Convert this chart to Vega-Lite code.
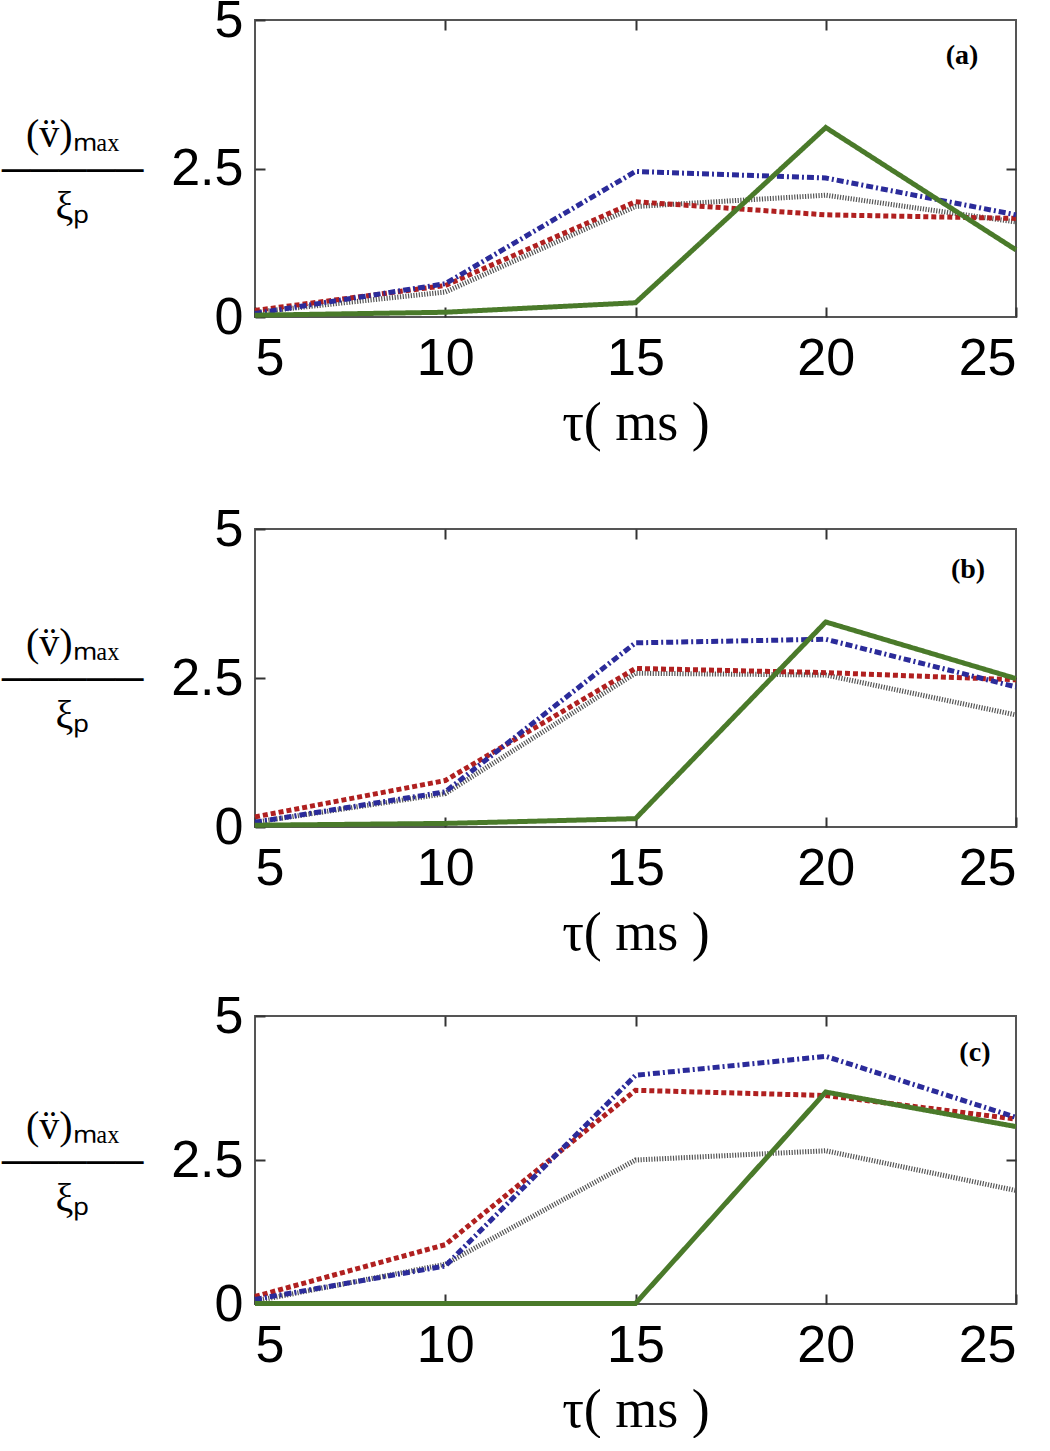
{
  "$schema": "https://vega.github.io/schema/vega-lite/v6.json",
  "background": "white",
  "padding": {"left": 0, "top": -7, "right": 0, "bottom": 0},
  "datasets": {
    "curves": [
      {"panel": "a", "series": "dotted", "tau": 5, "v": 0.08},
      {"panel": "a", "series": "dotted", "tau": 10, "v": 0.42},
      {"panel": "a", "series": "dotted", "tau": 15, "v": 1.86},
      {"panel": "a", "series": "dotted", "tau": 20, "v": 2.05},
      {"panel": "a", "series": "dotted", "tau": 25, "v": 1.6},
      {"panel": "a", "series": "dashed", "tau": 5, "v": 0.11},
      {"panel": "a", "series": "dashed", "tau": 10, "v": 0.53},
      {"panel": "a", "series": "dashed", "tau": 15, "v": 1.94},
      {"panel": "a", "series": "dashed", "tau": 20, "v": 1.72},
      {"panel": "a", "series": "dashed", "tau": 25, "v": 1.66},
      {"panel": "a", "series": "dashdot", "tau": 5, "v": 0.06},
      {"panel": "a", "series": "dashdot", "tau": 10, "v": 0.56},
      {"panel": "a", "series": "dashdot", "tau": 15, "v": 2.45},
      {"panel": "a", "series": "dashdot", "tau": 20, "v": 2.34},
      {"panel": "a", "series": "dashdot", "tau": 25, "v": 1.72},
      {"panel": "a", "series": "solid", "tau": 5, "v": 0.03},
      {"panel": "a", "series": "solid", "tau": 10, "v": 0.08},
      {"panel": "a", "series": "solid", "tau": 15, "v": 0.24},
      {"panel": "a", "series": "solid", "tau": 20, "v": 3.19},
      {"panel": "a", "series": "solid", "tau": 25, "v": 1.13},
      {"panel": "b", "series": "dotted", "tau": 5, "v": 0.08},
      {"panel": "b", "series": "dotted", "tau": 10, "v": 0.56},
      {"panel": "b", "series": "dotted", "tau": 15, "v": 2.58},
      {"panel": "b", "series": "dotted", "tau": 20, "v": 2.55},
      {"panel": "b", "series": "dotted", "tau": 25, "v": 1.88},
      {"panel": "b", "series": "dashed", "tau": 5, "v": 0.17},
      {"panel": "b", "series": "dashed", "tau": 10, "v": 0.78},
      {"panel": "b", "series": "dashed", "tau": 15, "v": 2.66},
      {"panel": "b", "series": "dashed", "tau": 20, "v": 2.59},
      {"panel": "b", "series": "dashed", "tau": 25, "v": 2.47},
      {"panel": "b", "series": "dashdot", "tau": 5, "v": 0.08},
      {"panel": "b", "series": "dashdot", "tau": 10, "v": 0.59},
      {"panel": "b", "series": "dashdot", "tau": 15, "v": 3.09},
      {"panel": "b", "series": "dashdot", "tau": 20, "v": 3.15},
      {"panel": "b", "series": "dashdot", "tau": 25, "v": 2.35},
      {"panel": "b", "series": "solid", "tau": 5, "v": 0.03},
      {"panel": "b", "series": "solid", "tau": 10, "v": 0.06},
      {"panel": "b", "series": "solid", "tau": 15, "v": 0.14},
      {"panel": "b", "series": "solid", "tau": 20, "v": 3.44},
      {"panel": "b", "series": "solid", "tau": 25, "v": 2.49},
      {"panel": "c", "series": "dotted", "tau": 5, "v": 0.05},
      {"panel": "c", "series": "dotted", "tau": 10, "v": 0.69},
      {"panel": "c", "series": "dotted", "tau": 15, "v": 2.5},
      {"panel": "c", "series": "dotted", "tau": 20, "v": 2.66},
      {"panel": "c", "series": "dotted", "tau": 25, "v": 1.97},
      {"panel": "c", "series": "dashed", "tau": 5, "v": 0.13},
      {"panel": "c", "series": "dashed", "tau": 10, "v": 1.03},
      {"panel": "c", "series": "dashed", "tau": 15, "v": 3.71},
      {"panel": "c", "series": "dashed", "tau": 20, "v": 3.62},
      {"panel": "c", "series": "dashed", "tau": 25, "v": 3.21},
      {"panel": "c", "series": "dashdot", "tau": 5, "v": 0.08},
      {"panel": "c", "series": "dashdot", "tau": 10, "v": 0.66},
      {"panel": "c", "series": "dashdot", "tau": 15, "v": 3.97},
      {"panel": "c", "series": "dashdot", "tau": 20, "v": 4.3},
      {"panel": "c", "series": "dashdot", "tau": 25, "v": 3.24},
      {"panel": "c", "series": "solid", "tau": 5, "v": 0.01},
      {"panel": "c", "series": "solid", "tau": 10, "v": 0.01},
      {"panel": "c", "series": "solid", "tau": 15, "v": 0.01},
      {"panel": "c", "series": "solid", "tau": 20, "v": 3.68},
      {"panel": "c", "series": "solid", "tau": 25, "v": 3.08}
    ],
    "labels": [
      {"panel": "a", "tau": 23.58, "v": 4.39, "text": "(a)"},
      {"panel": "b", "tau": 23.74, "v": 4.31, "text": "(b)"},
      {"panel": "c", "tau": 23.92, "v": 4.36, "text": "(c)"}
    ]
  },
  "config": {
    "view": {"stroke": "#555555", "strokeWidth": 2},
    "axis": {
      "grid": false,
      "domain": false,
      "labelFont": "Liberation Sans",
      "labelFontSize": 52,
      "labelColor": "black",
      "tickColor": "#333333",
      "tickWidth": 2,
      "tickSize": -10,
      "titleFont": "Liberation Serif",
      "titleFontWeight": "normal",
      "titleColor": "black"
    }
  },
  "spacing": 28,
  "vconcat": [
    {
      "width": 761,
      "height": 297,
      "layer": [
        {
          "data": {"name": "curves"},
          "transform": [{"filter": "datum.panel === 'a'"}],
          "mark": {"type": "line", "strokeWidth": 5, "strokeCap": "butt"},
          "encoding": {
            "x": {"field": "tau", "type": "quantitative", "scale": {"domain": [5, 25], "nice": false, "zero": false, "padding": 0},
              "axis": {"values": [5, 10, 15, 20, 25], "labelPadding": 26, "title": "τ( ms )", "titleFontSize": 54, "titlePadding": 12}},
            "y": {"field": "v", "type": "quantitative", "scale": {"domain": [0, 5], "nice": false, "padding": 0},
              "axis": {"values": [0, 2.5, 5], "format": ".1~f", "labelPadding": 22, "title": ["(v̈)ₘₐₓ", "─────", "ξₚ"], "titleAngle": 0, "titleFontSize": 40, "titleLineHeight": 36, "titleAlign": "center", "titleBaseline": "middle", "titleX": -183, "titleY": 114}},
            "color": {"field": "series", "type": "nominal", "legend": null,
              "scale": {"domain": ["dashdot", "dashed", "dotted", "solid"], "range": ["#2b2b9a", "#b02020", "#555555", "#4a7a2a"]}},
            "strokeDash": {"field": "series", "type": "nominal", "legend": null,
              "scale": {"domain": ["dashdot", "dashed", "dotted", "solid"], "range": [[7, 3, 2, 3], [5, 3], [1.2, 1.5], [1, 0]]}}
          }
        },
        {
          "data": {"name": "labels"},
          "transform": [{"filter": "datum.panel === 'a'"}],
          "mark": {"type": "text", "font": "Liberation Serif", "fontSize": 28, "fontWeight": "bold", "color": "black"},
          "encoding": {
            "x": {"field": "tau", "type": "quantitative", "scale": {"domain": [5, 25], "nice": false, "zero": false, "padding": 0}, "axis": {"orient": "top", "values": [10, 15, 20], "labels": false, "title": null}},
            "y": {"field": "v", "type": "quantitative", "scale": {"domain": [0, 5], "nice": false, "padding": 0}, "axis": {"orient": "right", "values": [2.5], "labels": false, "title": null}},
            "text": {"field": "text"}
          }
        }
      ],
      "resolve": {"axis": {"x": "independent", "y": "independent"}}
    },
    {
      "width": 761,
      "height": 298,
      "title": {"text": " ", "fontSize": 4, "offset": 19, "frame": "bounds"},
      "layer": [
        {
          "data": {"name": "curves"},
          "transform": [{"filter": "datum.panel === 'b'"}],
          "mark": {"type": "line", "strokeWidth": 5, "strokeCap": "butt"},
          "encoding": {
            "x": {"field": "tau", "type": "quantitative", "scale": {"domain": [5, 25], "nice": false, "zero": false, "padding": 0},
              "axis": {"values": [5, 10, 15, 20, 25], "labelPadding": 26, "title": "τ( ms )", "titleFontSize": 54, "titlePadding": 12}},
            "y": {"field": "v", "type": "quantitative", "scale": {"domain": [0, 5], "nice": false, "padding": 0},
              "axis": {"values": [0, 2.5, 5], "format": ".1~f", "labelPadding": 22, "title": ["(v̈)ₘₐₓ", "─────", "ξₚ"], "titleAngle": 0, "titleFontSize": 40, "titleLineHeight": 36, "titleAlign": "center", "titleBaseline": "middle", "titleX": -183, "titleY": 114}},
            "color": {"field": "series", "type": "nominal", "legend": null,
              "scale": {"domain": ["dashdot", "dashed", "dotted", "solid"], "range": ["#2b2b9a", "#b02020", "#555555", "#4a7a2a"]}},
            "strokeDash": {"field": "series", "type": "nominal", "legend": null,
              "scale": {"domain": ["dashdot", "dashed", "dotted", "solid"], "range": [[7, 3, 2, 3], [5, 3], [1.2, 1.5], [1, 0]]}}
          }
        },
        {
          "data": {"name": "labels"},
          "transform": [{"filter": "datum.panel === 'b'"}],
          "mark": {"type": "text", "font": "Liberation Serif", "fontSize": 28, "fontWeight": "bold", "color": "black"},
          "encoding": {
            "x": {"field": "tau", "type": "quantitative", "scale": {"domain": [5, 25], "nice": false, "zero": false, "padding": 0}, "axis": {"orient": "top", "values": [10, 15, 20], "labels": false, "title": null}},
            "y": {"field": "v", "type": "quantitative", "scale": {"domain": [0, 5], "nice": false, "padding": 0}, "axis": {"orient": "right", "values": [2.5], "labels": false, "title": null}},
            "text": {"field": "text"}
          }
        }
      ],
      "resolve": {"axis": {"x": "independent", "y": "independent"}}
    },
    {
      "width": 761,
      "height": 288,
      "layer": [
        {
          "data": {"name": "curves"},
          "transform": [{"filter": "datum.panel === 'c'"}],
          "mark": {"type": "line", "strokeWidth": 5, "strokeCap": "butt"},
          "encoding": {
            "x": {"field": "tau", "type": "quantitative", "scale": {"domain": [5, 25], "nice": false, "zero": false, "padding": 0},
              "axis": {"values": [5, 10, 15, 20, 25], "labelPadding": 26, "title": "τ( ms )", "titleFontSize": 54, "titlePadding": 12}},
            "y": {"field": "v", "type": "quantitative", "scale": {"domain": [0, 5], "nice": false, "padding": 0},
              "axis": {"values": [0, 2.5, 5], "format": ".1~f", "labelPadding": 22, "title": ["(v̈)ₘₐₓ", "─────", "ξₚ"], "titleAngle": 0, "titleFontSize": 40, "titleLineHeight": 36, "titleAlign": "center", "titleBaseline": "middle", "titleX": -183, "titleY": 110}},
            "color": {"field": "series", "type": "nominal", "legend": null,
              "scale": {"domain": ["dashdot", "dashed", "dotted", "solid"], "range": ["#2b2b9a", "#b02020", "#555555", "#4a7a2a"]}},
            "strokeDash": {"field": "series", "type": "nominal", "legend": null,
              "scale": {"domain": ["dashdot", "dashed", "dotted", "solid"], "range": [[7, 3, 2, 3], [5, 3], [1.2, 1.5], [1, 0]]}}
          }
        },
        {
          "data": {"name": "labels"},
          "transform": [{"filter": "datum.panel === 'c'"}],
          "mark": {"type": "text", "font": "Liberation Serif", "fontSize": 28, "fontWeight": "bold", "color": "black"},
          "encoding": {
            "x": {"field": "tau", "type": "quantitative", "scale": {"domain": [5, 25], "nice": false, "zero": false, "padding": 0}, "axis": {"orient": "top", "values": [10, 15, 20], "labels": false, "title": null}},
            "y": {"field": "v", "type": "quantitative", "scale": {"domain": [0, 5], "nice": false, "padding": 0}, "axis": {"orient": "right", "values": [2.5], "labels": false, "title": null}},
            "text": {"field": "text"}
          }
        }
      ],
      "resolve": {"axis": {"x": "independent", "y": "independent"}}
    }
  ]
}
